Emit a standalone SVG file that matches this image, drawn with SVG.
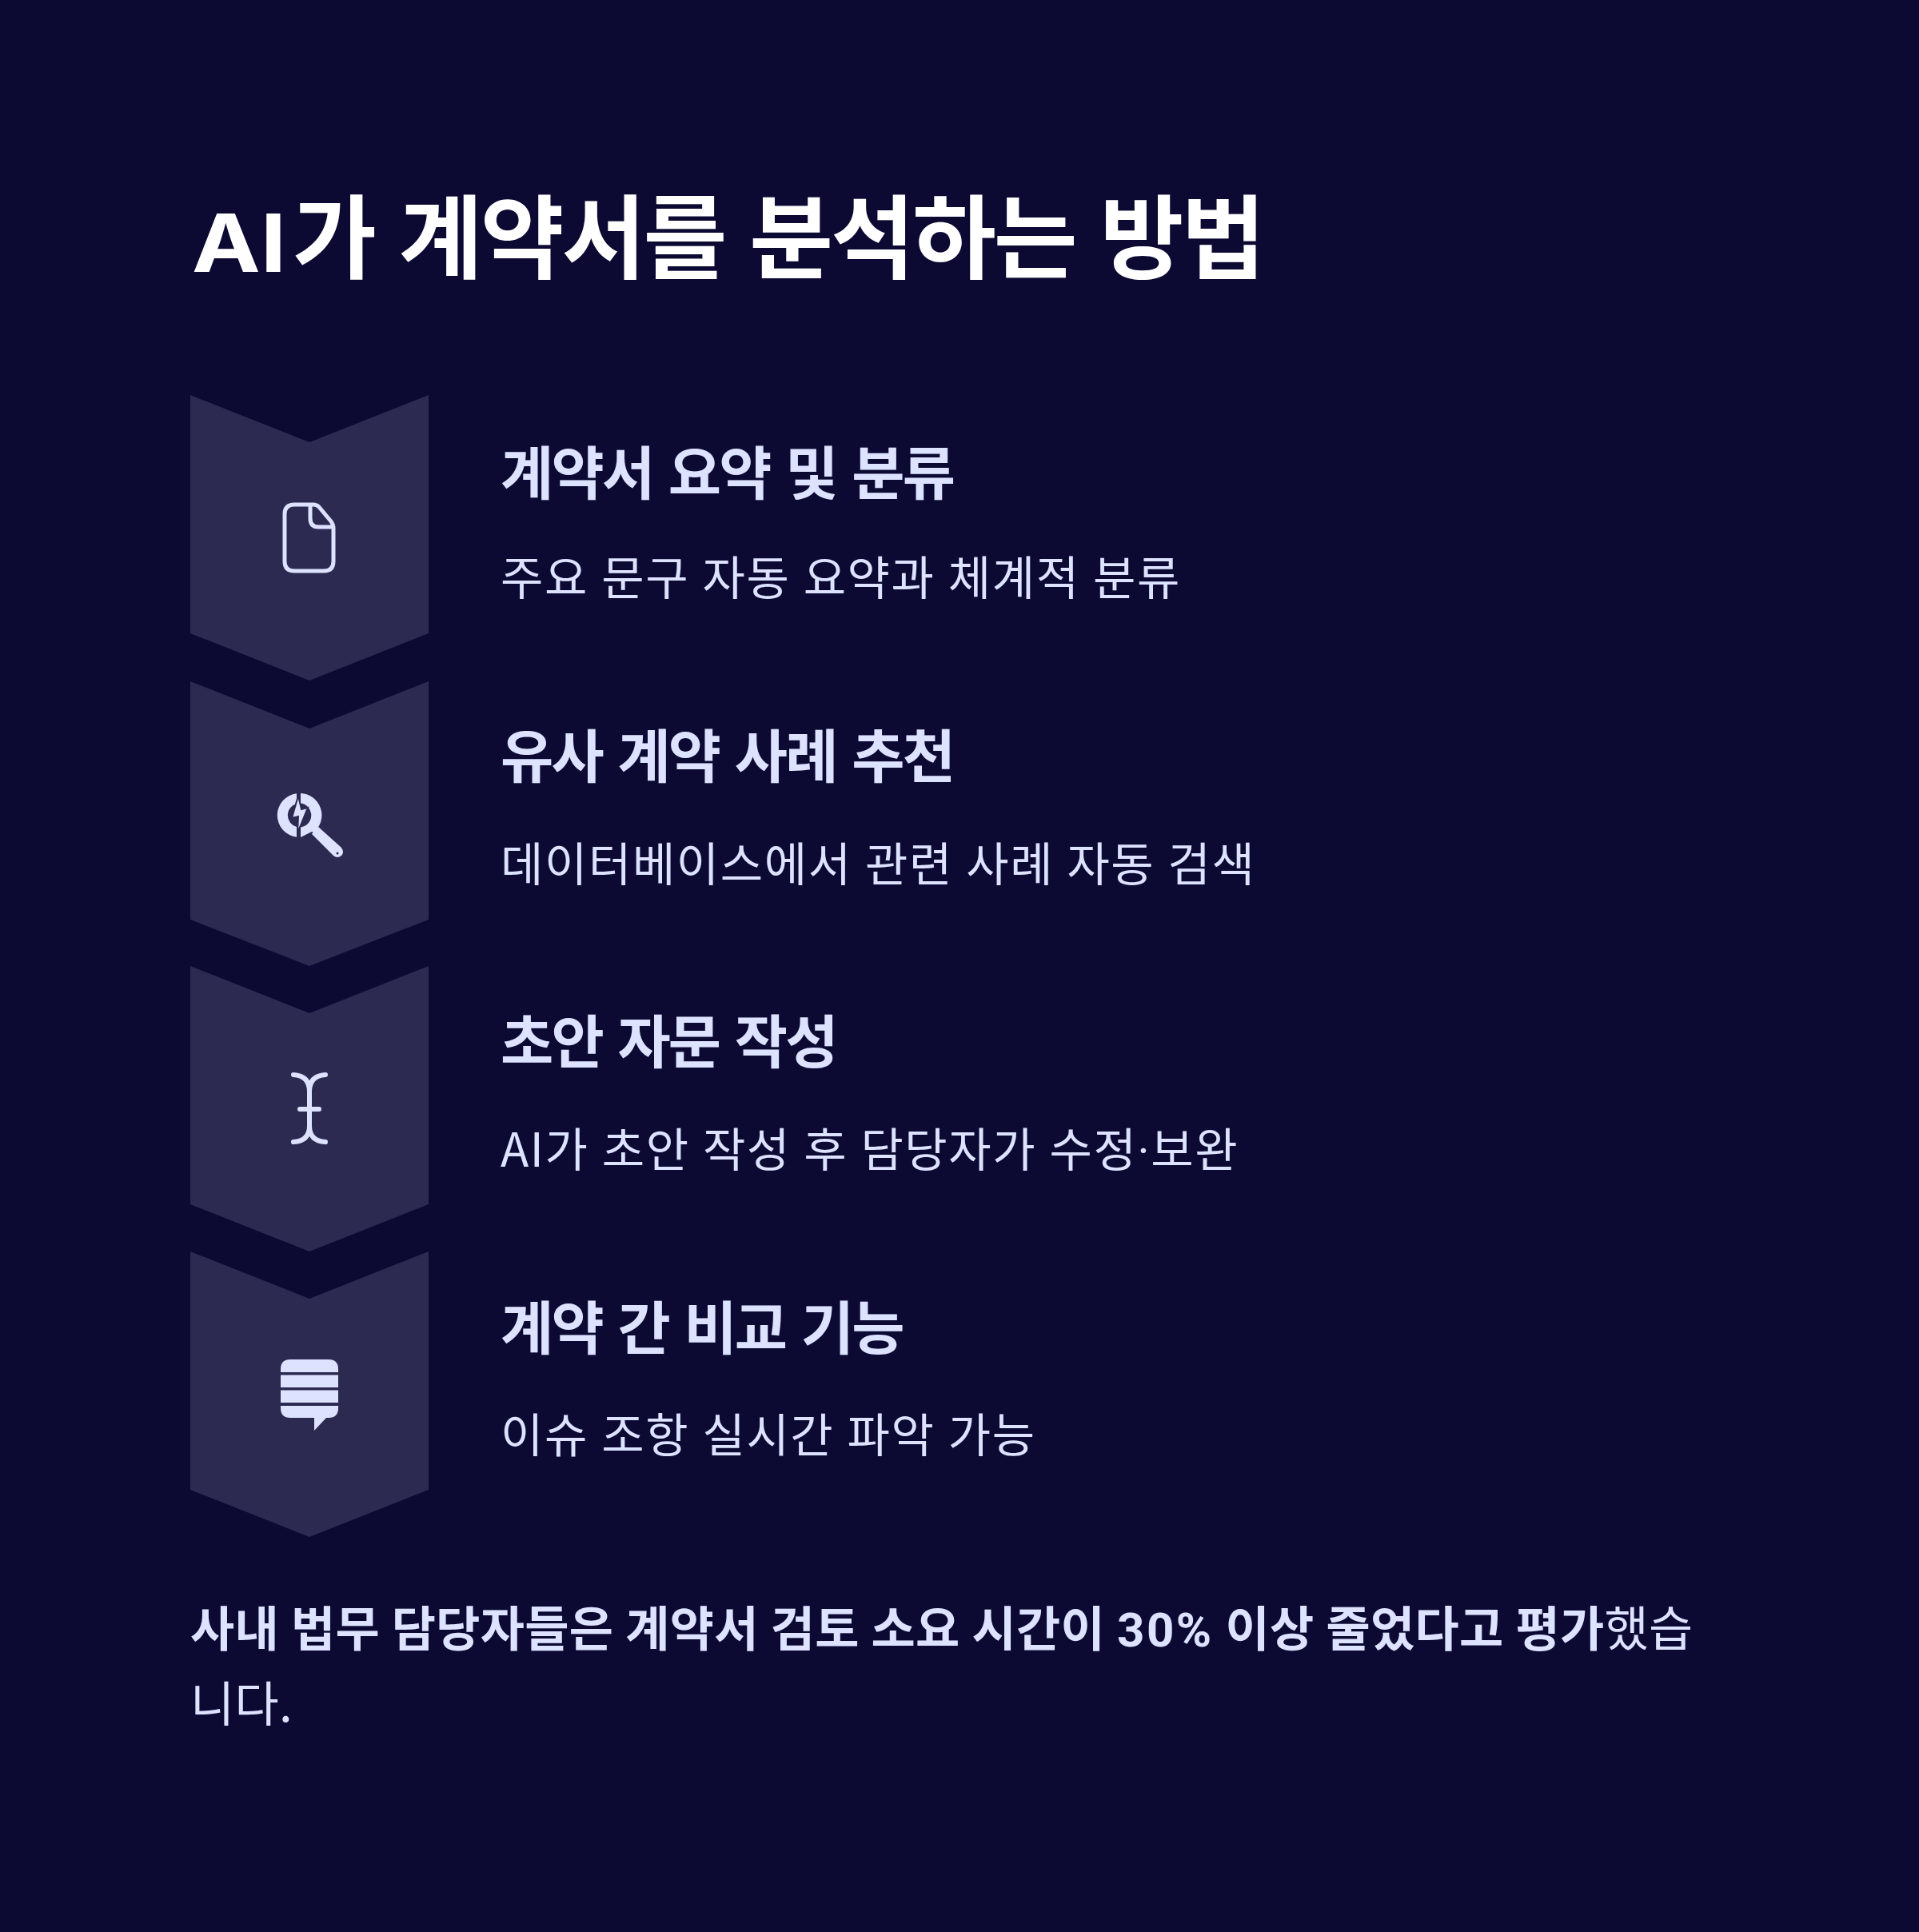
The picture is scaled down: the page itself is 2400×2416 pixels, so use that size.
<svg xmlns="http://www.w3.org/2000/svg" width="2400" height="2416" viewBox="0 0 2400 2416">
<style>
text{font-family:"Noto Sans CJK KR","Noto Sans",sans-serif;}
.t{font-size:114px;font-weight:700;fill:#fff;letter-spacing:-3px;word-spacing:8px}
.l{font-family:"Inter","Liberation Sans",sans-serif;font-size:100px;font-weight:700;fill:#fff}
.h{font-size:72px;font-weight:700;fill:#dde2ff;letter-spacing:-2.8px;word-spacing:6px}
.d{font-size:58px;font-weight:400;fill:#dde2ff;letter-spacing:1.6px;word-spacing:1.7px}
.b{font-size:60px;font-weight:400;fill:#dde2ff;letter-spacing:.3px;word-spacing:1px}
.s{font-weight:700}
.n{font-family:"Roboto","Noto Sans",sans-serif}
.w{letter-spacing:2.5px}
.c{fill:#2c2a51}
.i{fill:#dde2ff}
.o{fill:none;stroke:#dde2ff;stroke-width:5;stroke-linecap:round;stroke-linejoin:round}
</style>
<rect width="2400" height="2416" fill="#0c0a33"/>
<g id="title"><text class="l" x="240" y="340" textLength="118" lengthAdjust="spacingAndGlyphs">AI</text><text class="t" x="366" y="339">가 계약서를 분석하는 방법</text></g>
<g id="step1">
<path class="c" d="M238 494L387 553L536 494V792L387 851L238 792Z"/>
<path class="o" d="M368 631H392Q396 631 399 634L414 652Q417 656 417 660V702Q417 714 405 714H368Q356 714 356 702V643Q356 631 368 631M388 631V648Q388 659 398 659H417"/>
<text class="h" x="626" y="618">계약서 요약 및 분류</text>
<text class="d" x="626" y="744">주요 문구 자동 요약과 체계적 분류</text>
</g>
<g id="step2">
<path class="c" d="M238 852L387 911L536 852V1150L387 1208L238 1150Z"/>
<path class="i" d="M371 992.2A27.5 27.5 0 0 0 371 1046.8V1034A15 15 0 0 1 371 1005ZM376 992A27.5 27.5 0 0 1 392 1041L390 1040L376 1047V1034.4A15 15 0 0 0 376 1004.6Z"/>
<path d="M373 995L365 1023L373 1021L372 1042L385 1010L377 1012Z" fill="#dde2ff" stroke="#2c2a51" stroke-width="2"/>
<path class="i" d="M397 1033L427 1060Q431 1066 427 1070Q422 1074 417 1070L390 1043Z"/>
<circle cx="422" cy="1067" r="1.5" fill="#2c2a51"/>
<text class="h" x="626" y="972">유사 계약 사례 추천</text>
<text class="d" x="626" y="1102">데이터베이스에서 관련 사례 자동 검색</text>
</g>
<g id="step3">
<path class="c" d="M238 1208L387 1267L536 1208V1506L387 1565L238 1506Z"/>
<path class="o" style="stroke-width:6" d="M367 1344Q387 1345 387 1365V1408Q387 1427 367 1428M407 1344Q387 1345 387 1365M407 1428Q387 1427 387 1408M375 1387H399"/>
<text class="h" x="626" y="1329">초안 자문 작성</text>
<text class="d" x="626" y="1459">AI가 초안 작성 후 담당자가 수정<tspan class="n">·</tspan>보완</text>
</g>
<g id="step4">
<path class="c" d="M238 1565L387 1624L536 1565V1863L387 1922L238 1863Z"/>
<path class="i" d="M351 1716V1712Q351 1700 363 1700H411Q423 1700 423 1712V1716ZM351 1719.5H423V1735H351ZM351 1738.5H423V1754H351ZM351 1758H423V1761Q423 1773 411 1773H408L393 1789V1773H363Q351 1773 351 1761Z"/>
<text class="h" x="626" y="1687">계약 간 비교 기능</text>
<text class="d" x="626" y="1816">이슈 조항 실시간 파악 가능</text>
</g>
<g id="footer">
<text class="b" x="238" y="2059"><tspan class="s">사내 법무 담당자들은 계약서 검토 소요 시간이 <tspan class="n w">30%</tspan> 이상 줄었다고 평가</tspan>했습</text>
<text class="b" x="238" y="2153">니다.</text>
</g>
</svg>
